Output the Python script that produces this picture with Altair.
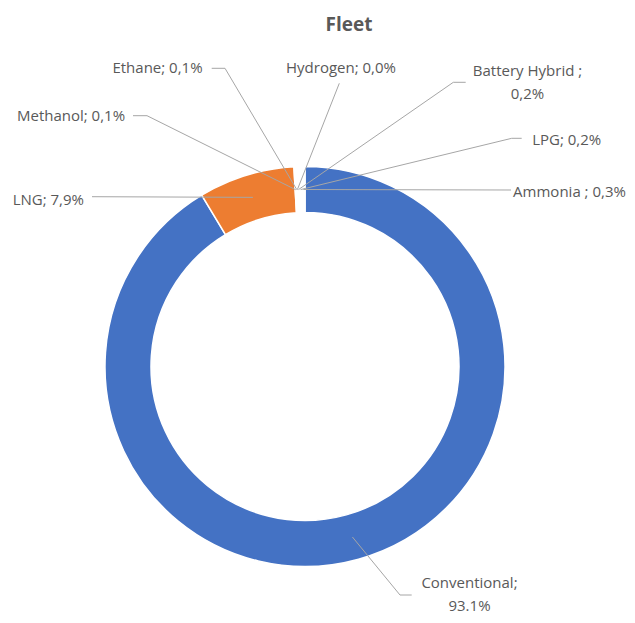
import altair as alt
import pandas as pd

# ---------------- data ----------------
categories = ["Conventional", "LNG", "Methanol", "Ethane", "Hydrogen",
              "Battery Hybrid", "LPG", "Ammonia"]
shares = [93.1, 7.9, 0.1, 0.1, 0.0, 0.2, 0.2, 0.3]
label_texts = ["Conventional;\n93.1%", "LNG; 7,9%", "Methanol; 0,1%", "Ethane; 0,1%",
               "Hydrogen; 0,0%", "Battery Hybrid ;\n0,2%", "LPG; 0,2%", "Ammonia ; 0,3%"]

# ---------------- styles / layout ----------------
slice_colors = ["#4472C4", "#ED7D31", "#FFFFFF", "#FFFFFF", "#FFFFFF",
                "#FFFFFF", "#FFFFFF", "#FFFFFF"]
TEXT_COLOR = "#595959"
LINE_COLOR = "#A6A6A6"
FONT = "Open Sans"
M = 8  # page margin
W, H = 635 - 2 * M, 623 - 2 * M
CX, CY = 305 - M, 366.5 - M
R_OUT, R_IN = 200, 154
R_ANCHOR = (R_OUT + R_IN) / 2

# label placement (page pixels): label centre (first line), leader elbow, leader end
label_pos = [(469.5, 583), (48.3, 200), (71, 115.7), (157.5, 68), (341, 68),
             (527.5, 70.7), (566.7, 140), (569.5, 191.7)]
elbow_pos = [(400, 595), (92, 196.7), (147, 115.7), (225, 68.3), (339.3, 83.3),
             (453.3, 82.3), (511.7, 138.3), (511, 190)]
end_pos = [(411.7, 595), (92, 196.7), (133, 115.7), (211.7, 68.3), (339.3, 83.3),
           (465.7, 82.3), (521.7, 138.3), (511, 190)]

df = pd.DataFrame({
    "category": categories,
    "share": shares,
    "label": label_texts,
    "order": list(range(len(categories))),
    "lx": [p[0] - M for p in label_pos],
    "ly": [p[1] - M for p in label_pos],
    "ex": [p[0] - M for p in elbow_pos],
    "ey": [p[1] - M for p in elbow_pos],
    "tx": [p[0] - M for p in end_pos],
    "ty": [p[1] - M for p in end_pos],
})

base = alt.Chart(df)

arcs = base.mark_arc(outerRadius=R_OUT, innerRadius=R_IN, stroke="white",
                     strokeWidth=1.5).encode(
    theta=alt.Theta("share:Q", stack=True),
    order=alt.Order("order:Q"),
    color=alt.Color("category:N", scale=alt.Scale(domain=categories, range=slice_colors),
                    legend=None),
    x=alt.value(CX),
    y=alt.value(CY),
)

anchored = base.transform_joinaggregate(
    total="sum(share)"
).transform_window(
    cum="sum(share)", sort=[alt.SortField("order")], frame=[None, 0]
).transform_calculate(
    mid="(datum.cum - datum.share / 2) / datum.total * 2 * PI"
).transform_calculate(
    ax=f"{CX} + {R_ANCHOR} * sin(datum.mid)",
    ay=f"{CY} - {R_ANCHOR} * cos(datum.mid)",
)

leader1 = anchored.mark_rule(color=LINE_COLOR, strokeWidth=1).encode(
    x=alt.X("ax:Q", scale=None), y=alt.Y("ay:Q", scale=None),
    x2="ex:Q", y2="ey:Q",
)
leader2 = base.mark_rule(color=LINE_COLOR, strokeWidth=1).encode(
    x=alt.X("ex:Q", scale=None), y=alt.Y("ey:Q", scale=None),
    x2="tx:Q", y2="ty:Q",
)

labels = base.mark_text(font=FONT, fontSize=15, color=TEXT_COLOR, align="center",
                        baseline="middle", lineBreak="\n", lineHeight=23).encode(
    x=alt.X("lx:Q", scale=None), y=alt.Y("ly:Q", scale=None),
    text="label:N",
)

title = alt.Chart(pd.DataFrame({"t": ["Fleet"]})).mark_text(
    font=FONT, fontSize=19, fontWeight="bold", color=TEXT_COLOR,
    align="center", baseline="middle"
).encode(x=alt.value(349 - M), y=alt.value(25 - M), text="t:N")

chart = alt.layer(arcs, leader1, leader2, labels, title).properties(
    width=W, height=H,
    autosize=alt.AutoSizeParams(type="none"),
    padding=0,
).configure_view(stroke=None)

chart.save("out.html", embed_options={"renderer": "svg", "actions": False})
